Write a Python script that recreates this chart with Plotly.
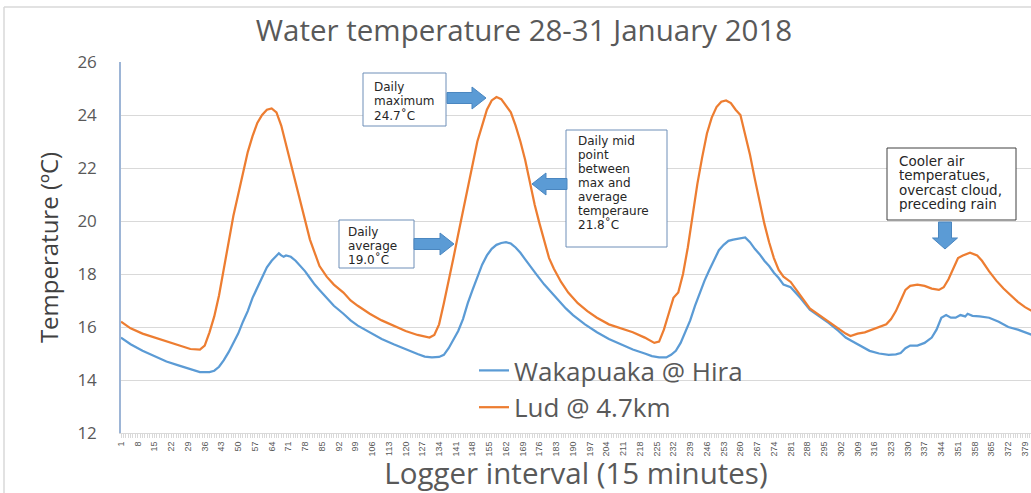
import plotly.graph_objects as go

# ---------------- data ----------------
lud_idx = [1, 5, 10, 15, 20, 25, 30, 34, 36, 38, 40, 42, 44, 46, 48, 50, 52, 54, 56, 58, 60, 62, 64, 66, 68, 70,
           72, 74, 76, 78, 80, 82, 84, 87, 90, 94, 97, 100, 105, 110, 115, 120, 125, 130, 132, 134, 136, 138,
           140, 142, 144, 146, 148, 150, 152, 154, 156, 158, 160, 162, 164, 166, 168, 170, 172, 174, 176, 178,
           180, 182, 185, 188, 192, 196, 200, 205, 210, 215, 220, 224, 226, 228, 230, 232, 234, 236, 238, 240,
           242, 244, 246, 248, 250, 252, 254, 256, 258, 260, 262, 264, 266, 268, 270, 272, 274, 276, 278, 281,
           285, 289, 293, 297, 301, 304, 306, 309, 312, 315, 318, 321, 323, 325, 327, 329, 331, 334, 337, 340,
           343, 345, 347, 349, 351, 353, 356, 359, 361, 364, 367, 370, 373, 376, 379, 382]
lud_val = [16.2, 15.95, 15.75, 15.6, 15.45, 15.3, 15.17, 15.15, 15.3, 15.8, 16.4, 17.2, 18.2, 19.2, 20.2, 21.0,
           21.8, 22.6, 23.2, 23.7, 24.0, 24.2, 24.25, 24.1, 23.6, 22.9, 22.2, 21.5, 20.8, 20.0, 19.3, 18.8, 18.3,
           17.9, 17.6, 17.3, 17.0, 16.8, 16.5, 16.25, 16.05, 15.85, 15.7, 15.6, 15.7, 16.1, 16.9, 17.7, 18.6,
           19.5, 20.4, 21.3, 22.2, 23.0, 23.6, 24.2, 24.55, 24.68, 24.6, 24.35, 24.1, 23.6, 23.0, 22.3, 21.4,
           20.6, 19.9, 19.2, 18.6, 18.2, 17.7, 17.3, 16.9, 16.6, 16.35, 16.1, 15.95, 15.8, 15.6, 15.4, 15.45,
           15.9, 16.5, 17.1, 17.3, 18.0, 19.0, 20.2, 21.4, 22.4, 23.3, 23.9, 24.3, 24.5, 24.55, 24.45, 24.2,
           24.0, 23.3, 22.5, 21.6, 20.7, 19.9, 19.2, 18.6, 18.15, 17.9, 17.7, 17.2, 16.7, 16.45, 16.2, 15.95,
           15.75, 15.66, 15.75, 15.8, 15.9, 16.0, 16.1, 16.3, 16.6, 17.0, 17.4, 17.55, 17.6, 17.55, 17.45, 17.4,
           17.5, 17.8, 18.2, 18.6, 18.7, 18.8, 18.7, 18.5, 18.1, 17.75, 17.45, 17.2, 16.95, 16.75, 16.6]

wak_idx = [1, 5, 10, 15, 20, 25, 30, 34, 38, 40, 42, 44, 46, 48, 50, 52, 54, 56, 58, 60, 62, 64, 66, 67, 68, 69,
           70, 72, 74, 76, 78, 80, 82, 84, 87, 90, 94, 97, 100, 105, 110, 115, 120, 125, 128, 131, 134, 136,
           138, 140, 142, 144, 146, 148, 150, 152, 154, 156, 158, 160, 162, 164, 166, 168, 170, 172, 175, 178,
           181, 184, 187, 190, 195, 200, 205, 210, 215, 220, 223, 226, 229, 231, 233, 235, 237, 239, 241, 243,
           245, 247, 249, 251, 253, 255, 257, 260, 262, 264, 266, 268, 270, 272, 274, 276, 278, 281, 285, 289,
           293, 297, 301, 304, 306, 310, 314, 318, 322, 325, 327, 329, 331, 334, 337, 340, 342, 344, 346, 348,
           350, 352, 354, 355, 357, 360, 364, 368, 372, 376, 379, 382]
wak_val = [15.6, 15.35, 15.1, 14.9, 14.7, 14.55, 14.4, 14.3, 14.3, 14.35, 14.5, 14.75, 15.05, 15.4, 15.75, 16.2,
           16.6, 17.1, 17.5, 17.9, 18.25, 18.5, 18.7, 18.78, 18.7, 18.65, 18.7, 18.65, 18.5, 18.3, 18.1, 17.85,
           17.6, 17.4, 17.1, 16.8, 16.5, 16.25, 16.05, 15.8, 15.55, 15.35, 15.15, 14.98, 14.88, 14.85, 14.87,
           14.95, 15.2, 15.5, 15.85, 16.3, 16.9, 17.4, 17.9, 18.35, 18.7, 18.95, 19.1, 19.17, 19.2, 19.15, 19.0,
           18.8, 18.55, 18.3, 17.95, 17.6, 17.3, 17.0, 16.7, 16.45, 16.1, 15.8, 15.55, 15.35, 15.15, 15.0, 14.9,
           14.85, 14.85, 14.95, 15.1, 15.4, 15.8, 16.25, 16.8, 17.3, 17.75, 18.15, 18.55, 18.9, 19.1, 19.25,
           19.3, 19.35, 19.38, 19.2, 18.95, 18.75, 18.5, 18.3, 18.05, 17.85, 17.6, 17.5, 17.1, 16.65, 16.4,
           16.15, 15.85, 15.6, 15.5, 15.3, 15.1, 15.0, 14.95, 14.97, 15.02, 15.2, 15.3, 15.3, 15.4, 15.6, 15.9,
           16.35, 16.45, 16.35, 16.35, 16.45, 16.4, 16.5, 16.42, 16.4, 16.35, 16.2, 16.0, 15.9, 15.8, 15.7]

x_ticks = [1, 8, 15, 22, 29, 36, 43, 50, 57, 64, 71, 78, 85, 92, 99, 106, 113, 120, 127, 134, 141, 148, 155,
           162, 169, 176, 183, 190, 197, 204, 211, 218, 225, 232, 239, 246, 253, 260, 267, 274, 281, 288, 295,
           302, 309, 316, 323, 330, 337, 344, 351, 358, 365, 372, 379]
y_ticks = [12, 14, 16, 18, 20, 22, 24, 26]

series_names = ["Wakapuaka @ Hira", "Lud @ 4.7km"]
title_text = "Water temperature 28-31 January 2018"
x_title = "Logger interval (15 minutes)"
y_title = "Temperature (ºC)"

notes = [
    ["Daily", "maximum", "24.7˚C"],
    ["Daily", "average", "19.0˚C"],
    ["Daily mid", "point", "between", "max and", "average", "temperaure", "21.8˚C"],
    ["Cooler air", "temperatues,", "overcast cloud,", "preceding rain"],
]

# ---------------- layout helpers ----------------
W, H = 1031, 493
L, R, T, B = 121, 1031, 62, 433


def px(x):
    return (x - L) / (R - L)


def py(y):
    return (B - y) / (B - T)


def poly(points):
    return "M " + " L ".join(f"{px(a):.5f},{py(b):.5f}" for a, b in points) + " Z"


def arrow_h(x0, x1, yc, hs, hh, hl):
    d = 1 if x1 > x0 else -1
    xb = x1 - d * hl
    return poly([(x0, yc - hs), (xb, yc - hs), (xb, yc - hh), (x1, yc), (xb, yc + hh), (xb, yc + hs), (x0, yc + hs)])


def arrow_v(xc, y0, y1, hs, hh, hl):
    yb = y1 - hl
    return poly([(xc - hs, y0), (xc - hs, yb), (xc - hh, yb), (xc, y1), (xc + hh, yb), (xc + hs, yb), (xc + hs, y0)])


BLUE = "#5B9BD5"
ORANGE = "#ED7D31"
GRID = "#D9D9D9"
TXT = "#595959"

fig = go.Figure()
fig.add_trace(go.Scatter(x=wak_idx, y=wak_val, mode="lines", name=series_names[0],
                         line=dict(color=BLUE, width=2.25)))
fig.add_trace(go.Scatter(x=lud_idx, y=lud_val, mode="lines", name=series_names[1],
                         line=dict(color=ORANGE, width=2.25)))

shapes = []
# outer chart frame (left and top edges visible)
shapes.append(dict(type="line", xref="paper", yref="paper", x0=px(4), x1=px(1035), y0=py(7), y1=py(7),
                   line=dict(color=GRID, width=1.5)))
shapes.append(dict(type="line", xref="paper", yref="paper", x0=px(4), x1=px(4), y0=py(7), y1=py(496),
                   line=dict(color=GRID, width=1.5)))

box_style = dict(type="rect", xref="paper", yref="paper", fillcolor="white", layer="above")
boxes = [
    ((363, 73, 446, 126), "#6F8FB8"),
    ((339, 220, 414, 268), "#6F8FB8"),
    ((566, 130, 667, 247), "#6F8FB8"),
    ((887, 148, 1016, 220), "#404040"),
]
for (x0, y0, x1, y1), col in boxes:
    shapes.append(dict(box_style, x0=px(x0), x1=px(x1), y0=py(y1), y1=py(y0), line=dict(color=col, width=1)))

arrow_style = dict(type="path", xref="paper", yref="paper", fillcolor=BLUE, layer="above",
                   line=dict(color="#4A86C0", width=1))
shapes.append(dict(arrow_style, path=arrow_h(447, 486, 98, 5.5, 11, 14)))
shapes.append(dict(arrow_style, path=arrow_h(414, 454, 244, 5.5, 11, 14)))
shapes.append(dict(arrow_style, path=arrow_h(567, 532, 184, 5.5, 11, 14)))
shapes.append(dict(arrow_style, path=arrow_v(945, 222, 249, 6.5, 12.5, 11)))

annotations = []
# (left x, first line centre y, line spacing, font size) for each note box
note_layout = [(372, 87, 14, 12), (346, 232, 13.7, 12), (576, 141, 13.9, 12), (897, 161, 14.4, 13.5)]
for lines, (x, y0, dy, fs) in zip(notes, note_layout):
    for k, line in enumerate(lines):
        annotations.append(dict(xref="paper", yref="paper", x=px(x), y=py(y0 + k * dy),
                                xanchor="left", yanchor="middle", text=line, showarrow=False,
                                font=dict(family="DejaVu Sans", size=fs, color="#262626")))

fig.update_layout(
    width=W, height=H,
    margin=dict(l=L, r=W - R, t=T, b=H - B, pad=0),
    paper_bgcolor="white", plot_bgcolor="white",
    title=dict(text=title_text, x=524 / W, xanchor="center", y=1 - 31 / H, yanchor="middle",
               font=dict(family="Open Sans", size=29.5, color=TXT)),
    showlegend=True,
    legend=dict(x=px(474), y=py(347), xanchor="left", yanchor="top", bgcolor="rgba(0,0,0,0)",
                font=dict(family="Open Sans", size=26, color=TXT), itemwidth=30, tracegroupgap=0),
    xaxis=dict(range=[1, 381.5], tickmode="array", tickvals=x_ticks, ticktext=[str(v) for v in x_ticks],
               tickangle=-90, tickfont=dict(family="Liberation Sans Narrow, Liberation Sans", size=9, color=TXT),
               showgrid=False, zeroline=False, showline=True, linecolor=GRID, linewidth=1,
               ticks="outside", ticklen=4, tickcolor=GRID, automargin=False,
               minor=dict(tickmode="linear", tick0=1, dtick=1, ticks="outside", ticklen=4, tickcolor=GRID,
                          showgrid=False),
               title=dict(text=x_title, font=dict(family="Open Sans", size=29.5, color=TXT), standoff=0)),
    yaxis=dict(range=[12, 26], tickmode="array", tickvals=y_ticks, ticktext=[str(v) for v in y_ticks],
               tickfont=dict(family="Open Sans", size=17, color=TXT), ticklabelstandoff=19,
               showgrid=True, gridcolor=GRID, gridwidth=1, zeroline=False, automargin=False,
               showline=True, linecolor="#9DB5D6", linewidth=1.5, ticks="",
               title=dict(text=y_title, font=dict(family="Open Sans", size=24, color="#404040"), standoff=12)),
    shapes=shapes,
    annotations=annotations,
)

fig.write_html("out.html", config={"displayModeBar": False},
               post_script="document.body.style.margin='0';")
